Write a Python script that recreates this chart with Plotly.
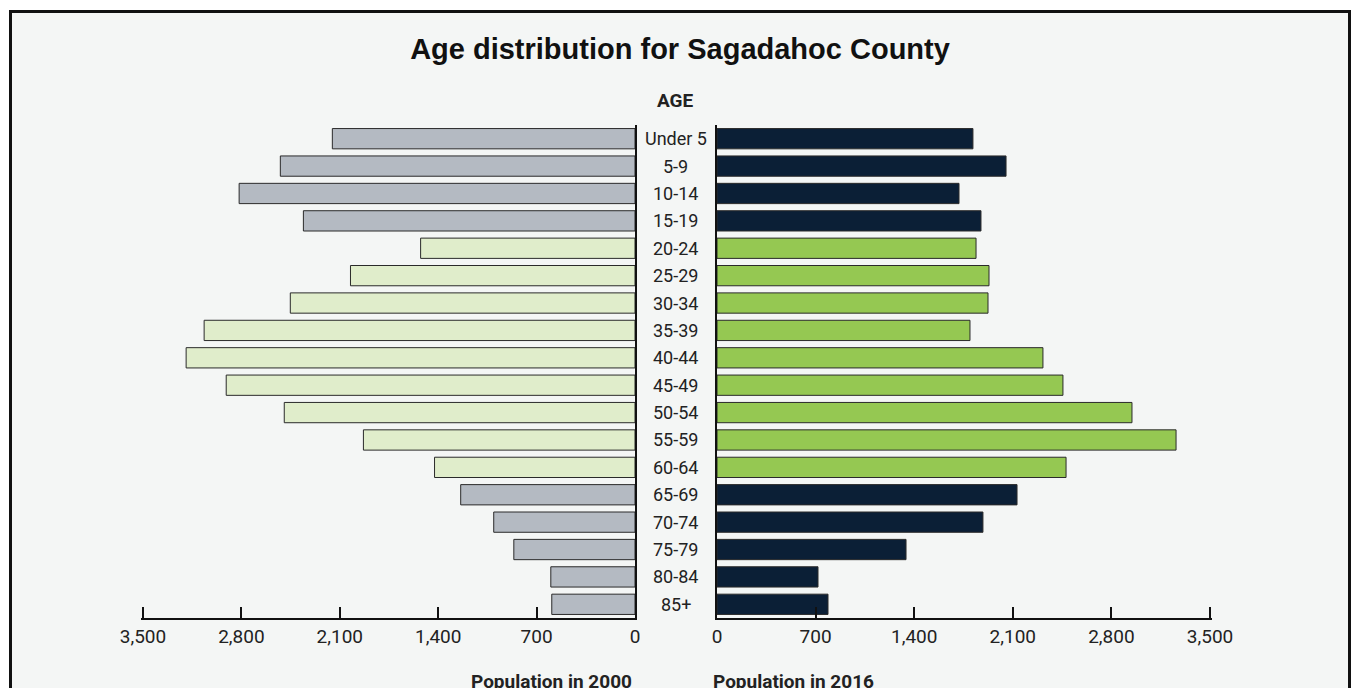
import plotly.graph_objects as go

ages = ["Under 5", "5-9", "10-14", "15-19", "20-24", "25-29", "30-34", "35-39", "40-44",
        "45-49", "50-54", "55-59", "60-64", "65-69", "70-74", "75-79", "80-84", "85+"]
pop_2000 = [2153, 2523, 2816, 2359, 1525, 2024, 2452, 3065, 3193,
            2908, 2495, 1932, 1426, 1240, 1005, 862, 599, 592]
pop_2016 = [1817, 2052, 1718, 1874, 1839, 1931, 1924, 1796, 2314,
            2456, 2946, 3259, 2478, 2130, 1888, 1342, 717, 788]
working_age = [False, False, False, False, True, True, True, True, True,
               True, True, True, True, False, False, False, False, False]
tick_vals = [0, 700, 1400, 2100, 2800, 3500]
tick_text = ["0", "700", "1,400", "2,100", "2,800", "3,500"]

GREY, LGREEN, NAVY, GREEN = "#b4bac2", "#e0edcb", "#0b1f36", "#95c852"
left_colors = [LGREEN if w else GREY for w in working_age]
right_colors = [GREEN if w else NAVY for w in working_age]

FONT = "Roboto, sans-serif"
BOLD = "Liberation Sans, Arial, sans-serif"
TXT = "#222222"

W, H = 1354, 688
T, B = 125, 70
PH = H - T - B
AX_MAX = 3512  # a hair beyond the last tick so the end tick mark is drawn


def px(x):
    return x / W


def py(y):
    return (H - B - y) / PH


fig = go.Figure()
fig.add_trace(go.Bar(y=ages, x=pop_2000, orientation="h", xaxis="x", yaxis="y",
                     marker=dict(color=left_colors, line=dict(color="#2a2a2a", width=1)),
                     showlegend=False))
fig.add_trace(go.Bar(y=ages, x=pop_2016, orientation="h", xaxis="x2", yaxis="y2",
                     marker=dict(color=right_colors, line=dict(color="#2a2a2a", width=1)),
                     showlegend=False))

xcommon = dict(tickvals=tick_vals, ticktext=tick_text, ticks="inside", ticklen=11,
               tickwidth=2, tickcolor="#111", showline=True, linecolor="#111", linewidth=2,
               showgrid=False, zeroline=False, automargin=False,
               tickfont=dict(family=FONT, size=19, color=TXT), fixedrange=True)
ycommon = dict(categoryorder="array", categoryarray=ages, autorange="reversed",
               showticklabels=False, showgrid=False, zeroline=False, ticks="",
               automargin=False,
               showline=True, linecolor="#111", linewidth=2, fixedrange=True)

fig.update_layout(
    width=W, height=H,
    margin=dict(l=0, r=0, t=T, b=B, autoexpand=False),
    paper_bgcolor="white", plot_bgcolor="rgba(0,0,0,0)",
    bargap=0.26,
    xaxis=dict(domain=[px(141.3), px(635)], range=[AX_MAX, 0], anchor="y", **xcommon),
    xaxis2=dict(domain=[px(717), px(1211.7)], range=[0, AX_MAX], anchor="y2", **xcommon),
    yaxis=dict(anchor="x", side="right", **ycommon),
    yaxis2=dict(anchor="x2", side="left", matches="y", **ycommon),
    title=dict(text="<b>Age distribution for Sagadahoc County</b>", x=px(680), xanchor="center",
               y=1 - 49 / H, yanchor="middle",
               font=dict(family=BOLD, size=29, color="#111")),
    shapes=[dict(type="rect", xref="paper", yref="paper", x0=px(10.5), x1=px(1349.5),
                 y0=py(720), y1=py(11.5), line=dict(color="#111", width=3),
                 fillcolor="#f4f6f5", layer="below")],
)

annotations = [dict(text="<b>AGE</b>", xref="paper", yref="paper", x=px(675.5), y=py(100),
                    yanchor="middle", showarrow=False, font=dict(family=FONT, size=19, color=TXT))]
for a in ages:
    annotations.append(dict(text=a, xref="paper", yref="y", x=px(675.5), y=a, showarrow=False,
                            font=dict(family=FONT, size=18, color=TXT)))
annotations.append(dict(text="<b>Population in 2000</b>", xref="paper", yref="paper",
                        x=px(634), y=py(681), xanchor="right", yanchor="middle", showarrow=False,
                        font=dict(family=FONT, size=19, color=TXT)))
annotations.append(dict(text="<b>Population in 2016</b>", xref="paper", yref="paper",
                        x=px(711), y=py(681), xanchor="left", yanchor="middle", showarrow=False,
                        font=dict(family=FONT, size=19, color=TXT)))
fig.update_layout(annotations=annotations)

fig.write_html("out.html", config={"displayModeBar": False},
               post_script="document.body.style.margin='0';document.body.style.overflow='hidden';")
